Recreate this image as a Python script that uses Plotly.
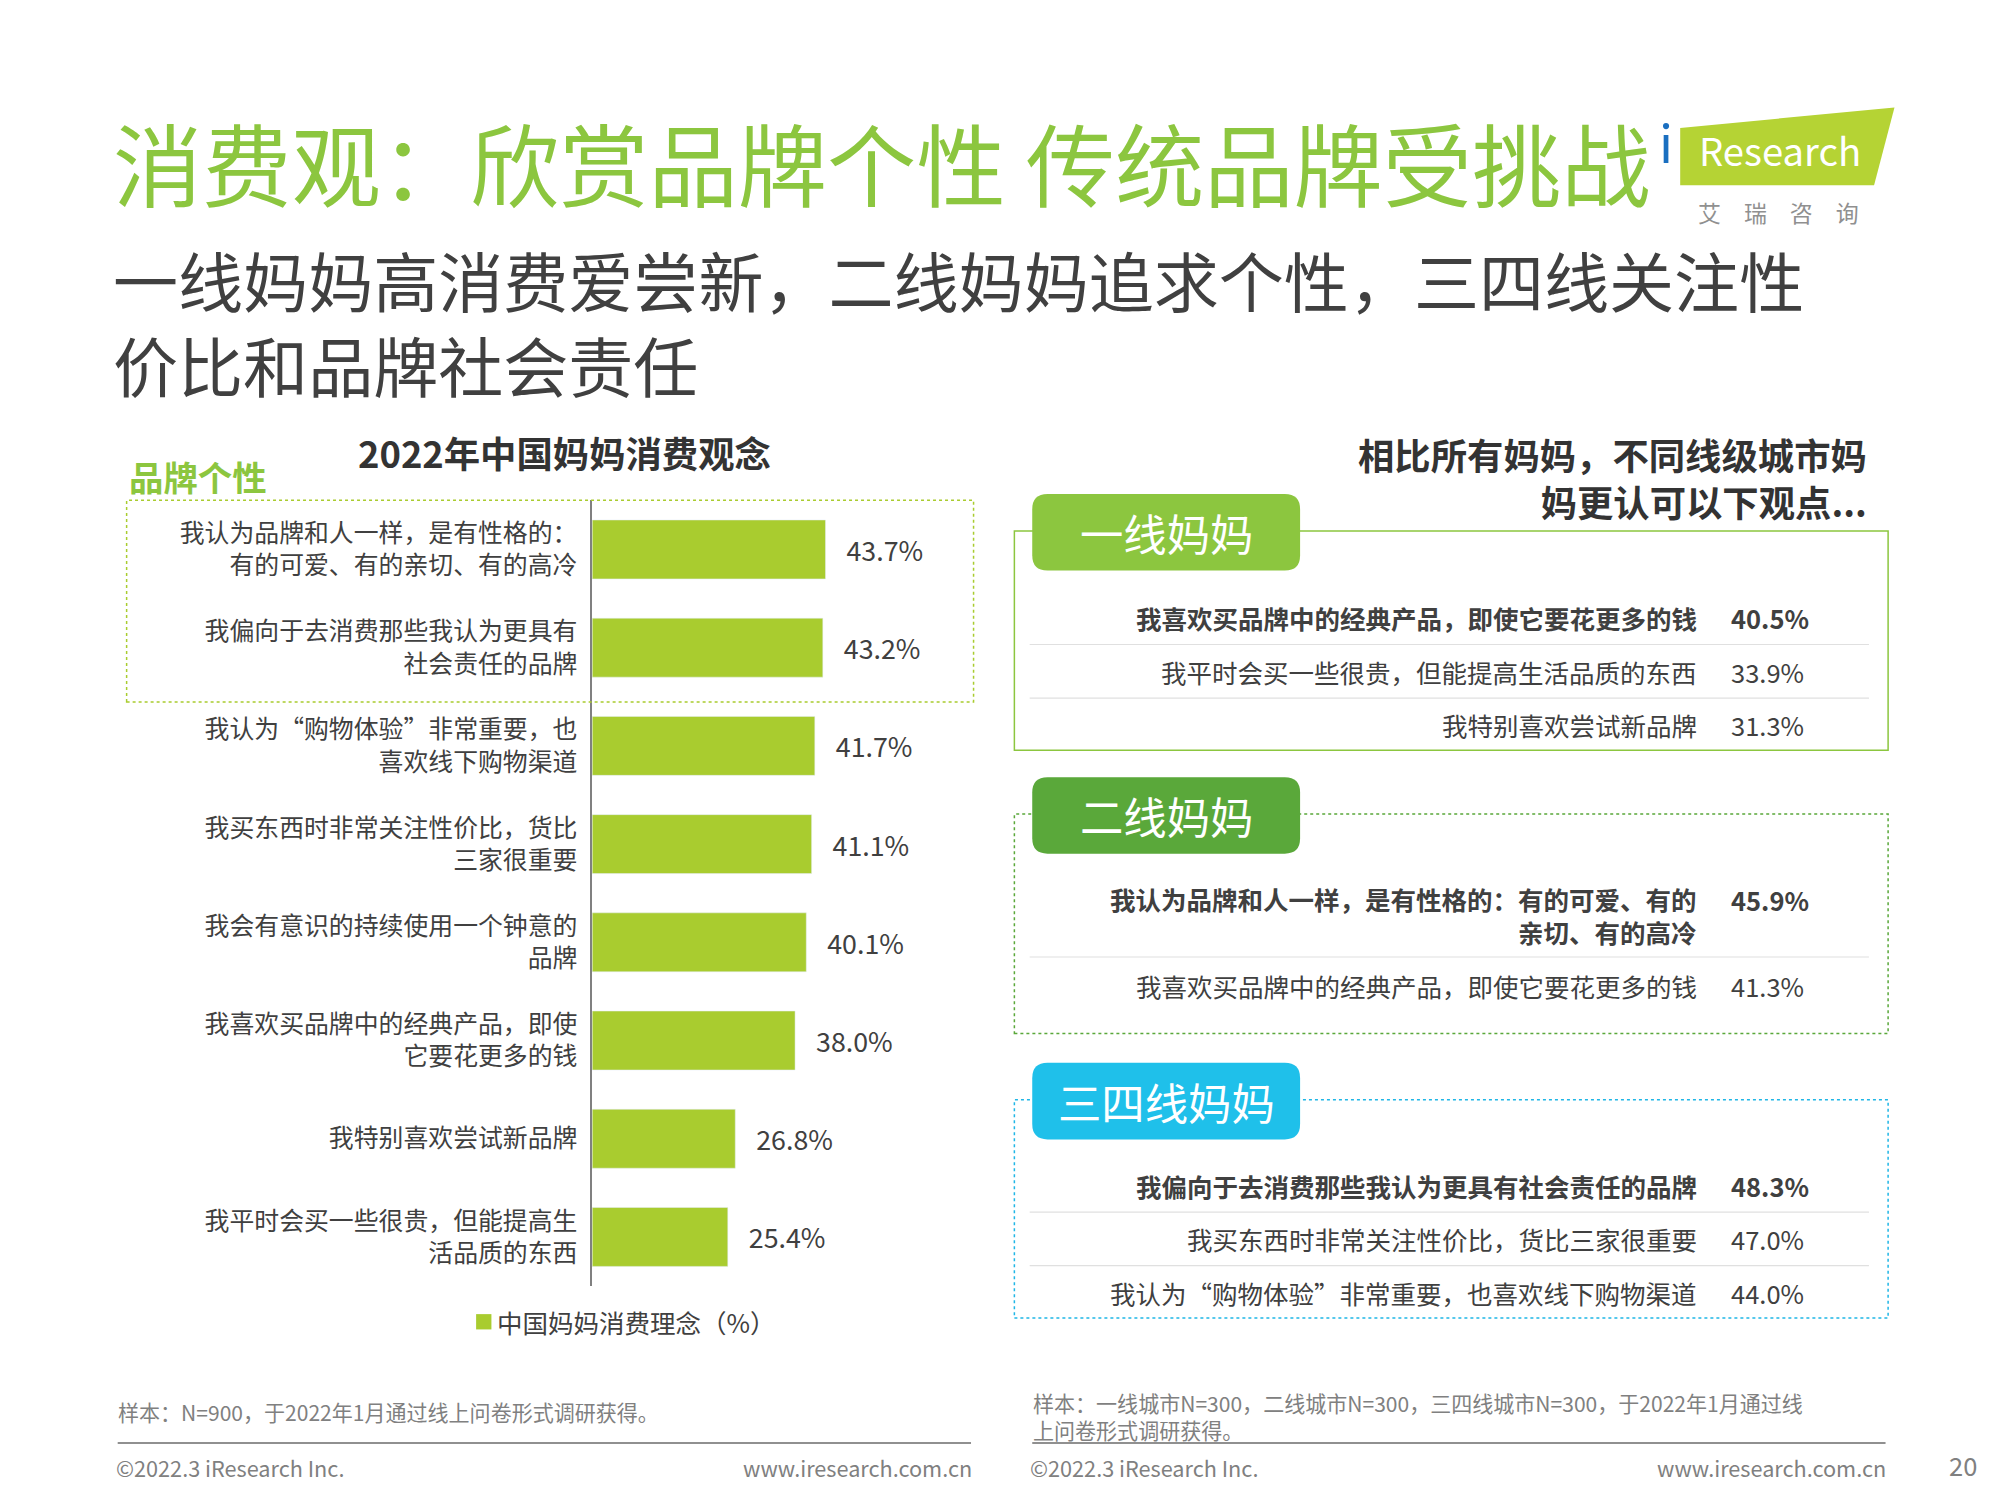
import plotly.graph_objects as go

categories = ["我认为品牌和人一样，是有性格的：<br>有的可爱、有的亲切、有的高冷",
              "我偏向于去消费那些我认为更具有<br>社会责任的品牌",
              "我认为“购物体验”非常重要，也<br>喜欢线下购物渠道",
              "我买东西时非常关注性价比，货比<br>三家很重要",
              "我会有意识的持续使用一个钟意的<br>品牌",
              "我喜欢买品牌中的经典产品，即使<br>它要花更多的钱",
              "我特别喜欢尝试新品牌",
              "我平时会买一些很贵，但能提高生<br>活品质的东西"]
values = [43.7, 43.2, 41.7, 41.1, 40.1, 38.0, 26.8, 25.4]

tier1_labels = ["我喜欢买品牌中的经典产品，即使它要花更多的钱", "我平时会买一些很贵，但能提高生活品质的东西", "我特别喜欢尝试新品牌"]
tier1_values = [40.5, 33.9, 31.3]
tier2_labels = ["我认为品牌和人一样，是有性格的：有的可爱、有的<br>亲切、有的高冷", "我喜欢买品牌中的经典产品，即使它要花更多的钱"]
tier2_values = [45.9, 41.3]
tier3_labels = ["我偏向于去消费那些我认为更具有社会责任的品牌", "我买东西时非常关注性价比，货比三家很重要", "我认为“购物体验”非常重要，也喜欢线下购物渠道"]
tier3_values = [48.3, 47.0, 44.0]

W0, H0 = 1568, 1176
S = 2000 / W0
OX, OY = 7, 6
def X(p): return (p - OX) / W0
def Y(p): return 1 - (p - OY) / H0
FONT = "Noto Sans CJK SC"
GRAY = "#404040"
GREEN = "#a9cc2f"

fig = go.Figure(go.Bar(
    y=categories, x=values, orientation="h", marker_color=GREEN, width=0.6,
    text=[f"   {v:.1f}%" for v in values], textposition="outside", cliponaxis=False,
    textfont=dict(size=21*S, color=GRAY, family=FONT), name="中国妈妈消费理念（%）"))

fig.update_layout(
    width=2000, height=1500, margin=dict(l=0, r=0, t=0, b=0),
    paper_bgcolor="white", plot_bgcolor="white", showlegend=False,
    font=dict(family=FONT, color=GRAY),
    xaxis=dict(domain=[X(465), X(758)], range=[0, 70], visible=False),
    yaxis=dict(domain=[Y(1008), Y(392)], autorange="reversed", showline=True,
               linecolor="#808080", linewidth=1.5, ticks="",
               tickfont=dict(size=19.5*S, color=GRAY, family=FONT), ticklabelstandoff=8),
)

ann = []
shapes = []
def text(x, y, t, size, color=GRAY, bold=False, xanchor="left", yanchor="middle", align="left"):
    ann.append(dict(x=X(x), y=Y(y), xref="paper", yref="paper", text=f"<b>{t}</b>" if bold else t,
                    showarrow=False, xanchor=xanchor, yanchor=yanchor, align=align,
                    font=dict(size=size*S, color=color, family=FONT)))
def rect(x0, y0, x1, y1, color, dash="solid", fill=None, w=1.5):
    shapes.append(dict(type="rect", xref="paper", yref="paper", x0=X(x0), x1=X(x1), y0=Y(y1), y1=Y(y0),
                       line=dict(color=color, width=w, dash=dash), fillcolor=fill or "rgba(0,0,0,0)"))
def line(x0, y0, x1, y1, color, w=1.2):
    shapes.append(dict(type="line", xref="paper", yref="paper", x0=X(x0), x1=X(x1), y0=Y(y0), y1=Y(y1),
                       line=dict(color=color, width=w)))
def tab(x0, y0, x1, y1, fill, label):
    r = 12
    px = lambda v: X(v)
    py = lambda v: Y(v)
    path = (f"M {px(x0+r)},{py(y0)} L {px(x1-r)},{py(y0)} Q {px(x1)},{py(y0)} {px(x1)},{py(y0+r)} "
            f"L {px(x1)},{py(y1-r)} Q {px(x1)},{py(y1)} {px(x1-r)},{py(y1)} L {px(x0+r)},{py(y1)} "
            f"Q {px(x0)},{py(y1)} {px(x0)},{py(y1-r)} L {px(x0)},{py(y0+r)} Q {px(x0)},{py(y0)} {px(x0+r)},{py(y0)} Z")
    shapes.append(dict(type="path", xref="paper", yref="paper", path=path, fillcolor=fill, line=dict(width=0)))
    text((x0+x1)/2, (y0+y1)/2, label, 34, color="white", xanchor="center")

# titles
text(88, 126, "消费观：欣赏品牌个性 传统品牌受挑战", 70, color="#8cc63f")
text(88, 252, "一线妈妈高消费爱尝新，二线妈妈追求个性，三四线关注性<br>价比和品牌社会责任", 51, color=GRAY)
# logo
shapes.append(dict(type="path", xref="paper", yref="paper",
                   path=f"M {X(1318)},{Y(145)} L {X(1470)},{Y(145)} L {X(1486)},{Y(84)} L {X(1318)},{Y(100)} Z",
                   fillcolor="#b5d334", line=dict(width=0)))
text(1396, 117, "Research", 30, color="white", xanchor="center")
text(1300, 110, "i", 40, color="#1a6fc0", xanchor="left")
text(1395, 166, "艾　瑞　咨　询", 18, color="#909090", xanchor="center")

# left chart
text(100, 373, "品牌个性", 27, color="#8cc63f", bold=True)
text(443, 354, "2022年中国妈妈消费观念", 28.5, color="#333333", bold=True, xanchor="center")
rect(100, 392, 764, 550, "#a9cc2f", dash="dot")
rect(374, 1030, 386, 1042, GREEN, fill=GREEN, w=0)
text(389, 1036, "中国妈妈消费理念（%）", 20)

# right
text(1466, 374, "相比所有妈妈，不同线级城市妈<br>妈更认可以下观点...", 28.5, color="#333333", bold=True, xanchor="right", align="right")

def panel(top, bottom, color, dash, tabfill, label, labels, vals, rows_y, seps):
    rect(796, top, 1481, bottom, color, dash=dash)
    tab(810, top - 29, 1020, top + 31, tabfill, label)
    for i, (l, v, yy) in enumerate(zip(labels, vals, rows_y)):
        text(1333, yy, l, 20, bold=(i == 0), xanchor="right", align="right")
        text(1356, yy if "<br>" not in l else yy - 12, f"{v:.1f}%", 20, bold=(i == 0))
    for s in seps:
        line(808, s, 1466, s, "#e0e0e0")

panel(416, 588, "#8cc63f", "solid", "#8cc63f", "一线妈妈", tier1_labels, tier1_values, [484, 526, 568], [505, 547])
panel(638, 810, "#5aa83a", "dot", "#5aa83a", "二线妈妈", tier2_labels, tier2_values, [717, 772], [750])
panel(862, 1033, "#1fb6e6", "dot", "#1fc0ea", "三四线妈妈", tier3_labels, tier3_values, [929, 971, 1013], [950, 992])

# footer
text(92, 1107, "样本：N=900，于2022年1月通过线上问卷形式调研获得。", 16.5, color="#808080")
text(809, 1110, "样本：一线城市N=300，二线城市N=300，三四线城市N=300，于2022年1月通过线<br>上问卷形式调研获得。", 16.5, color="#808080")
line(93, 1131, 762, 1131, "#909090", 2)
line(810, 1131, 1479, 1131, "#909090", 2)
text(90, 1150, "©2022.3 iResearch Inc.", 17, color="#808080")
text(764, 1150, "www.iresearch.com.cn", 17, color="#808080", xanchor="right")
text(807, 1150, "©2022.3 iResearch Inc.", 17, color="#808080")
text(1481, 1150, "www.iresearch.com.cn", 17, color="#808080", xanchor="right")
text(1552, 1148, "20", 20, color="#808080", xanchor="right")

fig.update_layout(annotations=ann, shapes=shapes)
fig.write_html("out.html")
